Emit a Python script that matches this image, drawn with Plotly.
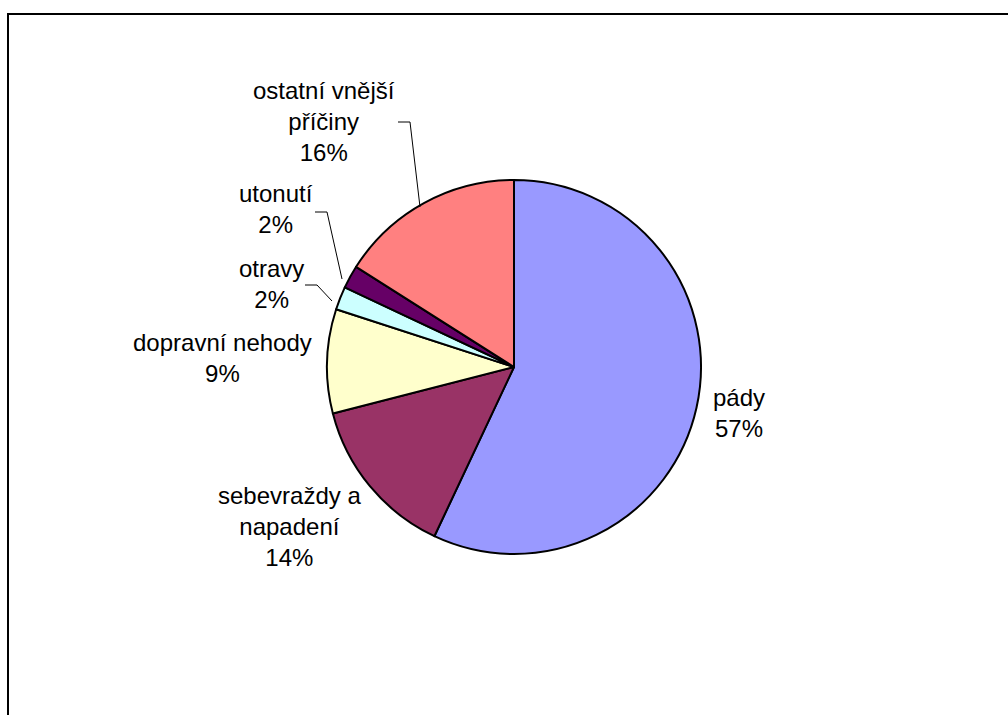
import plotly.graph_objects as go

categories = ["pády", "sebevraždy a napadení", "dopravní nehody", "otravy", "utonutí", "ostatní vnější příčiny"]
values = [57, 14, 9, 2, 2, 16]
colors = ["#9999FF", "#993366", "#FFFFCC", "#CCFFFF", "#660066", "#FF8080"]
label_lines = [["pády"], ["sebevraždy a", "napadení"], ["dopravní nehody"], ["otravy"], ["utonutí"], ["ostatní vnější", "příčiny"]]

W, H = 1008, 715
cx, cy, r = 514, 367, 187

fig = go.Figure()
fig.add_trace(go.Pie(
    labels=categories, values=values, sort=False, direction="clockwise", rotation=0,
    marker=dict(colors=colors, line=dict(color="black", width=2)),
    textinfo="none", hoverinfo="label+percent", showlegend=False,
    domain=dict(x=[(cx - r) / W, (cx + r) / W], y=[(H - cy - r) / H, (H - cy + r) / H]),
))

# label placement (pixel coordinates of text-block centres)
label_pos = [(739, 413), (289, 526), (222, 358), (271, 284), (276, 209), (324, 121)]
total = sum(values)
font = dict(family="Arial, Liberation Sans, sans-serif", size=24, color="black")
annotations = []
for lines, v, (lx, ly) in zip(label_lines, values, label_pos):
    pct = f"{round(100 * v / total)}%"
    annotations.append(dict(x=lx, y=ly, xref="x", yref="y", text="<br>".join(lines + [pct]),
                            showarrow=False, font=font, align="center",
                            xanchor="center", yanchor="middle"))

leaders = [
    [(398, 122), (410, 122), (420, 207)],
    [(315, 212), (327, 212), (342, 279)],
    [(305, 285), (317, 285), (332, 301)],
]
shapes = []
for pts in leaders:
    path = "M " + " L ".join(f"{x},{y}" for x, y in pts)
    shapes.append(dict(type="path", path=path, xref="x", yref="y", line=dict(color="black", width=1)))
# chart frame
shapes.append(dict(type="rect", xref="x", yref="y", x0=8, y0=14, x1=W + 20, y1=H + 20,
                   line=dict(color="black", width=2), fillcolor="rgba(0,0,0,0)", layer="above"))

fig.update_layout(
    width=W, height=H, margin=dict(l=0, r=0, t=0, b=0),
    paper_bgcolor="white", plot_bgcolor="white",
    xaxis=dict(range=[0, W], visible=False, fixedrange=True),
    yaxis=dict(range=[H, 0], visible=False, fixedrange=True),
    annotations=annotations, shapes=shapes,
)
fig.write_html("out.html")
